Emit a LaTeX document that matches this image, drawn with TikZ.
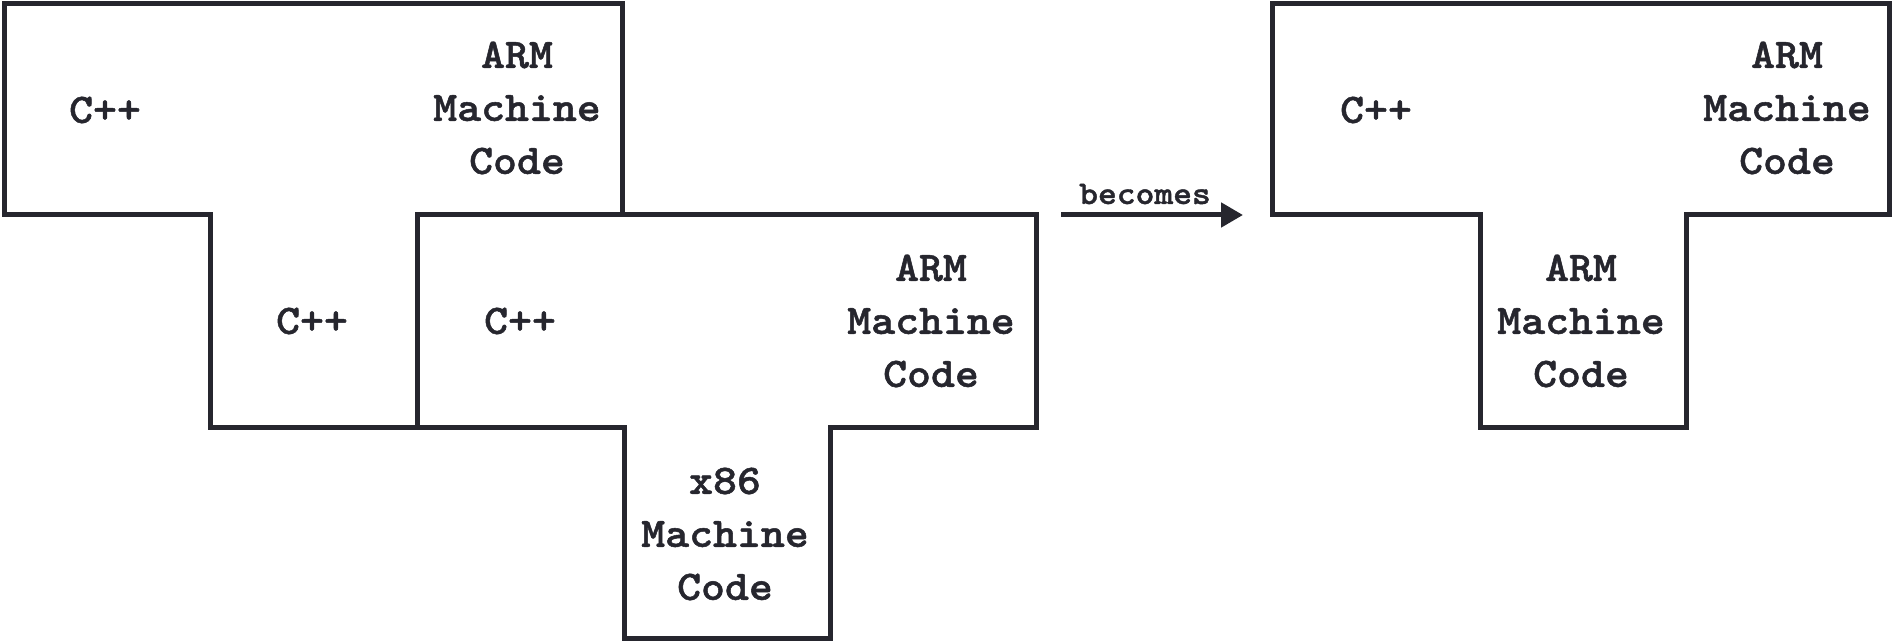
\documentclass[tikz,border=0pt]{standalone}
\usepackage{fontspec}
\usetikzlibrary{arrows.meta}
\newfontfamily\codefont{lmmonolt10-bold.otf}[FakeStretch=1.085,FakeBold=1.2]
\definecolor{ink}{RGB}{38,38,46}
\tikzset{
  x=1pt, y=-1pt,
  tshape/.style={draw=ink, line width=5pt, line join=miter},
  lbl/.style={text=ink, font=\codefont\fontsize{42}{53}\selectfont, align=center, inner sep=0pt},
  smalllbl/.style={text=ink, font=\codefont\fontsize{33}{38}\selectfont, inner sep=0pt},
  flow/.style={draw=ink, line width=5pt, -{Triangle[length=22pt,width=24pt]}}
}
\begin{document}
\begin{tikzpicture}
\useasboundingbox (0,0) rectangle (1895,644);
% left T
\draw[tshape] (4,4) -- (622,4) -- (622,215) -- (417,215) -- (417,427) -- (210,427) -- (210,215) -- (4,215) -- cycle;
% middle T
\draw[tshape] (417,215) -- (1036,215) -- (1036,427) -- (830,427) -- (830,638) -- (624,638) -- (624,427) -- (417,427) -- cycle;
% right T
\draw[tshape] (1272,4) -- (1889,4) -- (1889,215) -- (1686,215) -- (1686,427) -- (1480,427) -- (1480,215) -- (1272,215) -- cycle;

\node[lbl] (l1) at (105,110) {C++};
\node[lbl] (l2) at (517,108) {ARM\\Machine\\Code};
\node[lbl] (l3) at (312,321) {C++};
\node[lbl] (m1) at (520,321) {C++};
\node[lbl] (m2) at (931,321) {ARM\\Machine\\Code};
\node[lbl] (m3) at (725,534) {x86\\Machine\\Code};
\node[lbl] (r1) at (1376,110) {C++};
\node[lbl] (r2) at (1787,108) {ARM\\Machine\\Code};
\node[lbl] (r3) at (1581,321) {ARM\\Machine\\Code};

\coordinate (a1) at (1061,215);
\coordinate (a2) at (1243,215);
\draw[flow] (a1) -- (a2);
\node[smalllbl, anchor=base] (bec) at (1145,204) {becomes};
\end{tikzpicture}
\end{document}
